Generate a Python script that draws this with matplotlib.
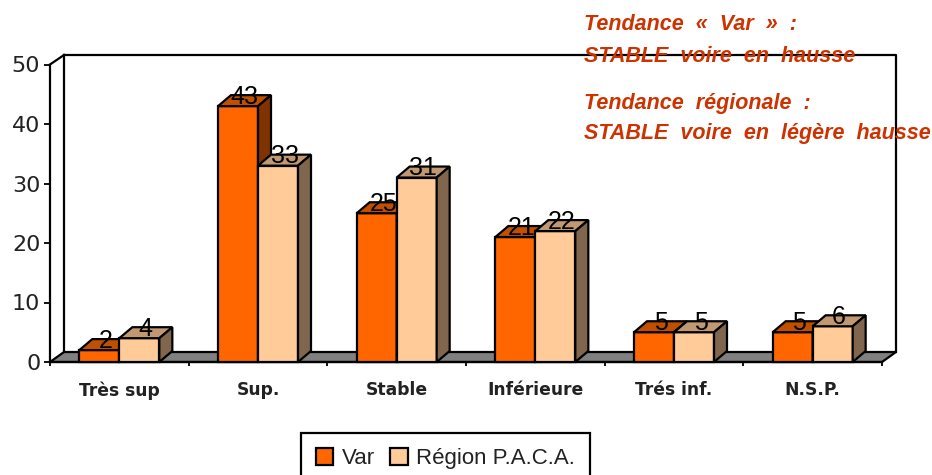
"""3D-style grouped bars: Var vs Region P.A.C.A."""
import matplotlib
matplotlib.use("Agg")
import matplotlib.pyplot as plt
from matplotlib.patches import Patch

categories = ["Très sup", "Sup.", "Stable", "Inférieure", "Trés inf.", "N.S.P."]
var_values = [2, 43, 25, 21, 5, 5]
paca_values = [4, 33, 31, 22, 5, 6]
series_names = ["Var", "Région P.A.C.A."]
y_ticks = [0, 10, 20, 30, 40, 50]

W, H = 932, 475
fig = plt.figure(figsize=(W / 100, H / 100), dpi=100, facecolor="white")
# front plane of the 3D box, in pixels
x0, x1, ytop, ybot = 50, 882, 64.5, 362
ax = fig.add_axes([x0 / W, 1 - ybot / H, (x1 - x0) / W, (ybot - ytop) / H])
ax.set_xlim(0, len(categories))
ax.set_ylim(0, 50)
ax.patch.set_visible(False)
for s in ax.spines.values():
    s.set_visible(False)

px_x = len(categories) / (x1 - x0)   # one pixel in data units
px_y = 50 / (ybot - ytop)
n = len(categories)
LW = 1.6

# wall + floor
fdx, fdy = 14 * px_x, 10 * px_y
wall_h = (ybot - 55) * px_y
line = dict(color="black", lw=LW, zorder=1, clip_on=False, solid_capstyle="projecting")
ax.fill([0, fdx, n + fdx, n], [0, fdy, fdy, 0], fc="#808080", ec="black", lw=LW, zorder=1, clip_on=False)
ax.plot([fdx, fdx], [fdy, wall_h], **line)
ax.plot([fdx, n + fdx, n + fdx], [wall_h, wall_h, fdy], **line)
ax.plot([0, fdx], [50, wall_h], **line)
ax.plot([0, 0], [0, 50], **line)
ax.plot([0, n], [0, 0], color="black", lw=LW, zorder=1.5, clip_on=False)

# bars
bw = 40 * px_x
dx, dy = 13 * px_x, 11 * px_y
front = ["#FF6600", "#FFCC99"]
top = ["#C05000", "#C09973"]
side = ["#803300", "#80664D"]
edge = dict(ec="black", lw=LW, clip_on=False)
z = 2
for i in range(n):
    for k, val in enumerate((var_values[i], paca_values[i])):
        left = i + 0.5 - bw + k * bw
        right = left + bw
        ax.bar(left, val, bw, align="edge", color=front[k], zorder=z, **edge)
        ax.fill([left, left + dx, right + dx, right], [val, val + dy, val + dy, val],
                fc=top[k], zorder=z, **edge)
        ax.fill([right, right + dx, right + dx, right], [0, dy, val + dy, val],
                fc=side[k], zorder=z, **edge)
        z += 1
        ax.text(left + bw / 2 + dx / 2, val + dy * 0.85, str(val), ha="center", va="center",
                family="Liberation Sans", fontsize=18, color="black", zorder=100)

# axes
ax.set_yticks(y_ticks)
ax.set_yticklabels([str(t) for t in y_ticks], fontsize=16, color="#222222")
ax.tick_params(axis="y", length=4, width=1.3, pad=3)
ax.set_xticks(range(n + 1))
ax.set_xticklabels([])
ax.tick_params(axis="x", which="major", length=3, width=1.3)
ax.set_xticks([i + 0.5 for i in range(n)], minor=True)
ax.set_xticklabels(categories, minor=True, fontsize=12.3, fontweight="bold", color="#222222")
ax.tick_params(axis="x", which="minor", length=0, pad=14)

# annotations
red = "#CC3300"
for s, px, py in [("Tendance  «  Var  »  :", 584, 25),
                  ("STABLE  voire  en  hausse", 584, 57),
                  ("Tendance  régionale  :", 584, 103),
                  ("STABLE  voire  en  légère  hausse", 584, 133)]:
    fig.text(px / W, 1 - py / H, s, color=red, family="Liberation Sans", fontsize=15.5,
             fontweight="bold", style="italic", ha="left", va="center", zorder=200)

handles = [Patch(fc=front[0], ec="black", lw=LW), Patch(fc=front[1], ec="black", lw=LW)]
fig.legend(handles, series_names, loc="center", bbox_to_anchor=(445.5 / W, 1 - 458.5 / H), ncol=2,
           prop={"family": "Liberation Sans", "size": 16}, frameon=True, fancybox=False,
           edgecolor="black", framealpha=1, handlelength=0.77, handleheight=0.85,
           handletextpad=0.4, columnspacing=0.7, borderpad=0.65,
           labelcolor="#222222").get_frame().set_linewidth(LW)

fig.savefig("out.png", dpi=100, facecolor="white")
